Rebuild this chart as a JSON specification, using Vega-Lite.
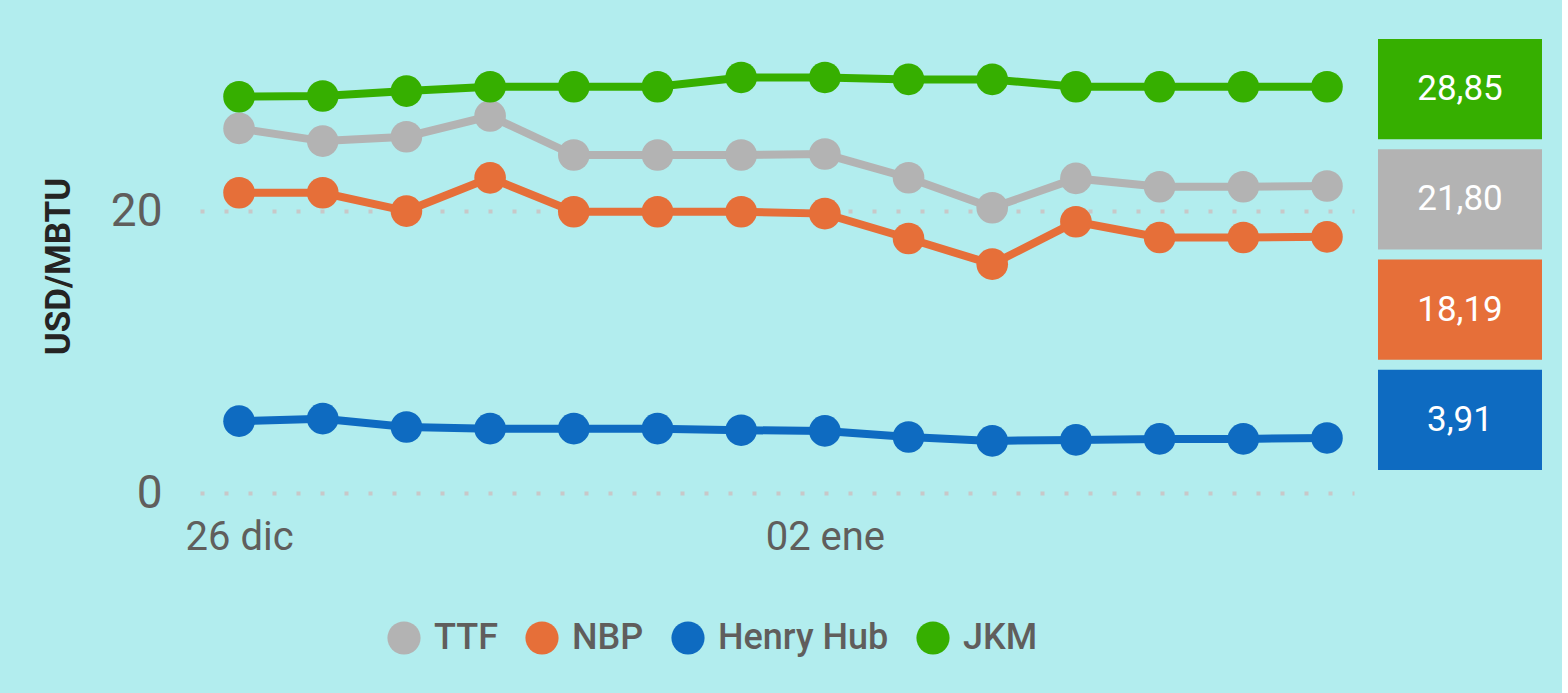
{
  "$schema": "https://vega.github.io/schema/vega-lite/v6.json",
  "background": "#B2EDEE",
  "padding": {"left": 41, "top": 39, "right": 20, "bottom": 136},
  "config": {
    "locale": {"number": {"decimal": ",", "thousands": ".", "grouping": [3], "currency": ["", " €"]}},
    "view": {"stroke": null},
    "font": "Roboto"
  },
  "data": {
    "values": [
      {"date": "2022-12-26", "series": "TTF", "value": 25.89},
      {"date": "2022-12-27", "series": "TTF", "value": 24.99},
      {"date": "2022-12-28", "series": "TTF", "value": 25.30},
      {"date": "2022-12-29", "series": "TTF", "value": 26.77},
      {"date": "2022-12-30", "series": "TTF", "value": 24.00},
      {"date": "2022-12-31", "series": "TTF", "value": 24.00},
      {"date": "2023-01-01", "series": "TTF", "value": 24.00},
      {"date": "2023-01-02", "series": "TTF", "value": 24.07},
      {"date": "2023-01-03", "series": "TTF", "value": 22.39},
      {"date": "2023-01-04", "series": "TTF", "value": 20.26},
      {"date": "2023-01-05", "series": "TTF", "value": 22.34},
      {"date": "2023-01-06", "series": "TTF", "value": 21.75},
      {"date": "2023-01-07", "series": "TTF", "value": 21.75},
      {"date": "2023-01-08", "series": "TTF", "value": 21.80},
      {"date": "2022-12-26", "series": "NBP", "value": 21.32},
      {"date": "2022-12-27", "series": "NBP", "value": 21.32},
      {"date": "2022-12-28", "series": "NBP", "value": 20.02},
      {"date": "2022-12-29", "series": "NBP", "value": 22.38},
      {"date": "2022-12-30", "series": "NBP", "value": 19.97},
      {"date": "2022-12-31", "series": "NBP", "value": 19.97},
      {"date": "2023-01-01", "series": "NBP", "value": 19.97},
      {"date": "2023-01-02", "series": "NBP", "value": 19.84},
      {"date": "2023-01-03", "series": "NBP", "value": 18.07},
      {"date": "2023-01-04", "series": "NBP", "value": 16.25},
      {"date": "2023-01-05", "series": "NBP", "value": 19.26},
      {"date": "2023-01-06", "series": "NBP", "value": 18.14},
      {"date": "2023-01-07", "series": "NBP", "value": 18.14},
      {"date": "2023-01-08", "series": "NBP", "value": 18.19},
      {"date": "2022-12-26", "series": "Henry Hub", "value": 5.10},
      {"date": "2022-12-27", "series": "Henry Hub", "value": 5.28},
      {"date": "2022-12-28", "series": "Henry Hub", "value": 4.69},
      {"date": "2022-12-29", "series": "Henry Hub", "value": 4.57},
      {"date": "2022-12-30", "series": "Henry Hub", "value": 4.57},
      {"date": "2022-12-31", "series": "Henry Hub", "value": 4.57},
      {"date": "2023-01-01", "series": "Henry Hub", "value": 4.46},
      {"date": "2023-01-02", "series": "Henry Hub", "value": 4.41},
      {"date": "2023-01-03", "series": "Henry Hub", "value": 3.98},
      {"date": "2023-01-04", "series": "Henry Hub", "value": 3.70},
      {"date": "2023-01-05", "series": "Henry Hub", "value": 3.77},
      {"date": "2023-01-06", "series": "Henry Hub", "value": 3.84},
      {"date": "2023-01-07", "series": "Henry Hub", "value": 3.84},
      {"date": "2023-01-08", "series": "Henry Hub", "value": 3.91},
      {"date": "2022-12-26", "series": "JKM", "value": 28.14},
      {"date": "2022-12-27", "series": "JKM", "value": 28.19},
      {"date": "2022-12-28", "series": "JKM", "value": 28.54},
      {"date": "2022-12-29", "series": "JKM", "value": 28.85},
      {"date": "2022-12-30", "series": "JKM", "value": 28.85},
      {"date": "2022-12-31", "series": "JKM", "value": 28.85},
      {"date": "2023-01-01", "series": "JKM", "value": 29.51},
      {"date": "2023-01-02", "series": "JKM", "value": 29.51},
      {"date": "2023-01-03", "series": "JKM", "value": 29.37},
      {"date": "2023-01-04", "series": "JKM", "value": 29.37},
      {"date": "2023-01-05", "series": "JKM", "value": 28.85},
      {"date": "2023-01-06", "series": "JKM", "value": 28.85},
      {"date": "2023-01-07", "series": "JKM", "value": 28.85},
      {"date": "2023-01-08", "series": "JKM", "value": 28.85}
    ]
  },
  "spacing": 24,
  "hconcat": [
    {
      "width": 1154,
      "height": 454,
      "encoding": {
        "x": {
          "field": "date",
          "type": "temporal",
          "scale": {
            "type": "utc",
            "domain": [
              {"year": 2022, "month": 12, "date": 25, "hours": 12, "minutes": 48, "utc": true},
              {"year": 2023, "month": 1, "date": 8, "hours": 7, "minutes": 45, "utc": true}
            ]
          },
          "axis": {
            "title": null,
            "values": [
              {"year": 2022, "month": 12, "date": 26, "utc": true},
              {"year": 2023, "month": 1, "date": 2, "utc": true}
            ],
            "labelExpr": "utcFormat(datum.value, '%d') + ' ' + (utcmonth(datum.value) == 11 ? 'dic' : 'ene')",
            "grid": false,
            "ticks": false,
            "domain": false,
            "labelFontSize": 40,
            "labelColor": "#605E5C",
            "labelPadding": 24,
            "labelFont": "Roboto"
          }
        },
        "y": {
          "field": "value",
          "type": "quantitative",
          "scale": {"domain": [0, 32.24], "nice": false, "zero": true},
          "axis": {
            "title": "USD/MBTU",
            "titleFontSize": 35,
            "titleFontWeight": "bold",
            "titleColor": "#252423",
            "titleFont": "Roboto",
            "titlePadding": 34,
            "values": [0, 20],
            "labelFontSize": 46,
            "labelColor": "#605E5C",
            "labelPadding": 38,
            "labelFont": "Roboto",
            "ticks": false,
            "domain": false,
            "grid": true,
            "gridColor": "#C8C8C8",
            "gridDash": [4, 20],
            "gridWidth": 4
          }
        },
        "color": {
          "field": "series",
          "type": "nominal",
          "scale": {
            "domain": ["TTF", "NBP", "Henry Hub", "JKM"],
            "range": ["#B3B3B3", "#E66F39", "#0E6BC1", "#36AF00"]
          },
          "legend": {
            "title": null,
            "orient": "none",
            "direction": "horizontal",
            "legendX": 186,
            "legendY": 581,
            "symbolType": "circle",
            "symbolSize": 1100,
            "symbolOpacity": 1,
            "symbolStrokeWidth": 0,
            "labelFontSize": 36,
            "labelFontWeight": 500,
            "labelColor": "#605E5C",
            "labelFont": "Roboto",
            "labelOffset": 12,
            "labelLimit": 400,
            "columnPadding": 26
          }
        }
      },
      "layer": [
        {
          "mark": {"type": "line", "strokeWidth": 8}
        },
        {
          "mark": {"type": "circle", "size": 1000, "opacity": 1}
        }
      ]
    },
    {
      "width": 164,
      "height": 431,
      "transform": [{"filter": "time(datum.date) == time('2023-01-08')"}],
      "encoding": {
        "y": {
          "field": "series",
          "type": "nominal",
          "sort": ["JKM", "TTF", "NBP", "Henry Hub"],
          "scale": {"paddingInner": 0.09, "paddingOuter": 0},
          "axis": null
        }
      },
      "layer": [
        {
          "mark": {"type": "bar"},
          "encoding": {
            "color": {
              "field": "series",
              "type": "nominal",
              "scale": {
                "domain": ["TTF", "NBP", "Henry Hub", "JKM"],
                "range": ["#B3B3B3", "#E66F39", "#0E6BC1", "#36AF00"]
              },
              "legend": null
            }
          }
        },
        {
          "mark": {"type": "text", "color": "white", "fontSize": 35, "font": "Roboto"},
          "encoding": {
            "text": {"field": "value", "type": "quantitative", "format": ".2f"}
          }
        }
      ]
    }
  ]
}
